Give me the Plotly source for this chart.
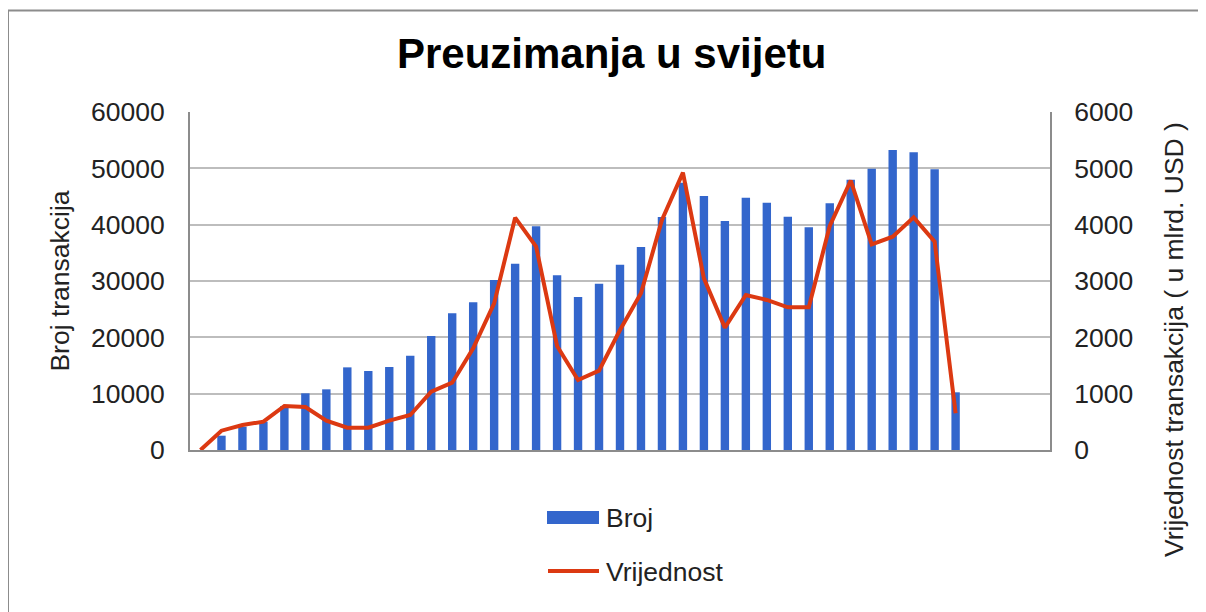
import plotly.graph_objects as go

# ---- data ----
periods = [str(i) for i in range(1, 42)]  # 41 unlabeled category slots
broj = [0, 2540, 4140, 5030, 7800, 10060, 10770, 14670, 14020, 14730,
        16740, 20230, 24260, 26210, 30170, 33070, 39700, 31000, 27160, 29520,
        32900, 36030, 41360, 47450, 45080, 40650, 44790, 43900, 41420, 39520,
        43780, 47980, 49940, 53250, 52840, 49820, 10240, None, None, None, None]
vrijednost = [0, 343, 444, 503, 781, 763, 521, 396, 396, 521,
              621, 1035, 1195, 1805, 2603, 4124, 3609, 1846, 1242, 1408,
              2130, 2781, 4083, 4923, 3047, 2172, 2751, 2663, 2532, 2532,
              3976, 4781, 3651, 3787, 4130, 3698, 651, None, None, None, None]
left_ticks = [0, 10000, 20000, 30000, 40000, 50000, 60000]
right_ticks = [0, 1000, 2000, 3000, 4000, 5000, 6000]

TITLE = "Preuzimanja u svijetu"
LEFT_TITLE = "Broj transakcija"
RIGHT_TITLE = "Vrijednost transakcija ( u mlrd. USD )"
BAR_NAME = "Broj"
LINE_NAME = "Vrijednost"

BAR_COLOR = "#3366CC"
LINE_COLOR = "#DC3912"
FONT = "Liberation Sans, Arial, sans-serif"
TXT = "#222222"
FS = 26.5
GRID = "#BDBDBD"
AXIS = "#8C8C8C"

W, H = 1206, 612
OFF = 8  # page body margin offset
# plot area in screen pixels
SL, SR, ST, SB = 190, 1050, 112, 450
L, R, T, B = SL - OFF, SR - OFF, ST - OFF, SB - OFF


def px(x):
    return (x - SL) / (SR - SL)


def py(y):
    return (SB - y) / (SB - ST)


fig = go.Figure()
fig.add_trace(go.Bar(x=periods, y=broj, name=BAR_NAME, marker_color=BAR_COLOR,
                     marker_line_width=0, showlegend=False, yaxis="y"))
fig.add_trace(go.Scatter(x=periods, y=vrijednost, name=LINE_NAME, mode="lines",
                         line=dict(color=LINE_COLOR, width=4), showlegend=False,
                         yaxis="y2", connectgaps=False))

shapes = [
    # outer chart border (left & top visible)
    dict(type="line", xref="paper", yref="paper", x0=px(8), x1=px(1230),
         y0=py(10.5), y1=py(10.5), line=dict(color=AXIS, width=2)),
    dict(type="line", xref="paper", yref="paper", x0=px(8), x1=px(8),
         y0=py(10.5), y1=py(640), line=dict(color=AXIS, width=2)),
    # legend symbols
    dict(type="rect", xref="paper", yref="paper", x0=px(547), x1=px(599),
         y0=py(524), y1=py(511), fillcolor=BAR_COLOR, line=dict(width=0)),
    dict(type="line", xref="paper", yref="paper", x0=px(548), x1=px(599),
         y0=py(571), y1=py(571), line=dict(color=LINE_COLOR, width=4)),
]

annotations = [
    dict(text=BAR_NAME, xref="paper", yref="paper", x=px(604), y=py(518),
         xanchor="left", yanchor="middle", showarrow=False,
         font=dict(family=FONT, size=FS, color=TXT)),
    dict(text=LINE_NAME, xref="paper", yref="paper", x=px(604), y=py(572),
         xanchor="left", yanchor="middle", showarrow=False,
         font=dict(family=FONT, size=FS, color=TXT)),
    # right axis title (placed like the original, below the axis centre)
    dict(text=RIGHT_TITLE, xref="paper", yref="paper", x=px(1174), y=py(340),
         xanchor="center", yanchor="middle", textangle=-90, showarrow=False,
         font=dict(family=FONT, size=FS, color=TXT)),
]

fig.update_layout(
    width=W, height=H,
    margin=dict(l=L, r=W - R, t=T, b=H - B, pad=0),
    paper_bgcolor="white", plot_bgcolor="white",
    title=dict(text="<b>" + TITLE + "</b>", x=(611.7 - OFF) / W, xanchor="center",
               y=1 - (53 - OFF) / H, yanchor="middle", yref="container",
               font=dict(family=FONT, size=42, color="black")),
    bargap=0.6,
    xaxis=dict(type="category", range=[-0.5, 40.5], showticklabels=False,
               showgrid=False, ticks="", showline=True, linecolor=AXIS,
               linewidth=2, zeroline=False),
    yaxis=dict(range=[0, 60000], tickvals=left_ticks,
               ticktext=[str(v) for v in left_ticks],
               showgrid=True, gridcolor=GRID, gridwidth=2,
               showline=True, linecolor=AXIS, linewidth=2, ticks="",
               ticklabelstandoff=18, zeroline=False,
               tickfont=dict(family=FONT, size=FS, color=TXT),
               title=dict(text=LEFT_TITLE, standoff=14,
                          font=dict(family=FONT, size=FS, color=TXT))),
    yaxis2=dict(range=[0, 6000], tickvals=right_ticks,
                ticktext=[str(v) for v in right_ticks],
                overlaying="y", side="right", showgrid=False,
                showline=True, linecolor=AXIS, linewidth=2, ticks="",
                ticklabelstandoff=17, zeroline=False,
                tickfont=dict(family=FONT, size=FS, color=TXT)),
    shapes=shapes,
    annotations=annotations,
)

fig.write_html("out.html")
